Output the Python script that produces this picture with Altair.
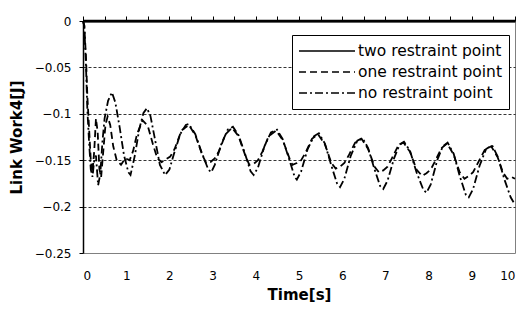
import altair as alt
import pandas as pd

series_names = ["two restraint point", "one restraint point", "no restraint point"]

t_two = [0.0, 10.0]
v_two = [0.0, 0.0]

t_one = [0.0, 0.03, 0.07, 0.1, 0.14, 0.18, 0.22, 0.26, 0.3, 0.34, 0.38, 0.42, 0.47, 0.52, 0.57,
         0.63, 0.7, 0.78, 0.88, 0.98, 1.08, 1.16, 1.25, 1.38, 1.5, 1.62, 1.72, 1.82, 1.92, 2.02,
         2.12, 2.28, 2.45, 2.6, 2.75, 2.85, 2.95, 3.05, 3.15, 3.3, 3.45, 3.6, 3.75, 3.85, 3.95,
         4.05, 4.15, 4.3, 4.47, 4.62, 4.78, 4.85, 4.95, 5.05, 5.15, 5.3, 5.44, 5.6, 5.75, 5.85,
         5.95, 6.05, 6.15, 6.3, 6.45, 6.6, 6.75, 6.85, 6.95, 7.05, 7.15, 7.3, 7.42, 7.57, 7.72,
         7.85, 7.95, 8.05, 8.15, 8.3, 8.43, 8.58, 8.72, 8.83, 8.93, 9.03, 9.13, 9.3, 9.45, 9.6,
         9.72, 9.82, 9.92, 10.0]
v_one = [0.0, -0.005, -0.04, -0.08, -0.115, -0.15, -0.163, -0.14, -0.105, -0.12, -0.16, -0.168,
         -0.14, -0.112, -0.103, -0.112, -0.135, -0.15, -0.155, -0.148, -0.15, -0.14, -0.122,
         -0.107, -0.113, -0.133, -0.148, -0.152, -0.149, -0.146, -0.138, -0.118, -0.112, -0.123,
         -0.143, -0.153, -0.152, -0.148, -0.14, -0.122, -0.115, -0.124, -0.144, -0.155, -0.154,
         -0.15, -0.141, -0.124, -0.118, -0.128, -0.148, -0.155, -0.153, -0.15, -0.142, -0.127,
         -0.122, -0.133, -0.153, -0.159, -0.157, -0.153, -0.145, -0.131, -0.127, -0.138, -0.157,
         -0.163, -0.161, -0.157, -0.148, -0.134, -0.131, -0.141, -0.16, -0.167, -0.164, -0.16,
         -0.151, -0.137, -0.132, -0.144, -0.163, -0.17, -0.167, -0.163, -0.154, -0.139, -0.135,
         -0.147, -0.163, -0.17, -0.168, -0.17]

t_no = [0.0, 0.03, 0.07, 0.1, 0.14, 0.18, 0.22, 0.26, 0.3, 0.35, 0.4, 0.45, 0.5, 0.58, 0.67,
        0.75, 0.85, 0.95, 1.05, 1.1, 1.2, 1.3, 1.4, 1.48, 1.56, 1.66, 1.78, 1.9, 2.0, 2.1, 2.25,
        2.38, 2.45, 2.6, 2.75, 2.9, 2.97, 3.05, 3.2, 3.35, 3.47, 3.6, 3.75, 3.88, 3.95, 4.05,
        4.2, 4.35, 4.49, 4.62, 4.78, 4.9, 4.95, 5.05, 5.2, 5.35, 5.46, 5.6, 5.75, 5.88, 5.95,
        6.05, 6.2, 6.35, 6.47, 6.6, 6.75, 6.88, 6.95, 7.05, 7.2, 7.33, 7.43, 7.57, 7.72, 7.88,
        7.95, 8.05, 8.2, 8.33, 8.44, 8.58, 8.72, 8.86, 8.93, 9.03, 9.18, 9.33, 9.47, 9.6, 9.75,
        9.9, 10.0]
v_no = [0.0, -0.005, -0.05, -0.095, -0.13, -0.16, -0.168, -0.15, -0.145, -0.177, -0.165, -0.13,
        -0.105, -0.086, -0.077, -0.088, -0.115, -0.145, -0.163, -0.166, -0.145, -0.117, -0.099,
        -0.094, -0.102, -0.126, -0.155, -0.166, -0.16, -0.144, -0.122, -0.112, -0.111, -0.122,
        -0.142, -0.16, -0.163, -0.155, -0.133, -0.117, -0.114, -0.123, -0.143, -0.162, -0.166,
        -0.158, -0.135, -0.12, -0.117, -0.127, -0.15, -0.168, -0.171, -0.162, -0.138, -0.124,
        -0.121, -0.132, -0.156, -0.175, -0.179, -0.17, -0.145, -0.129, -0.126, -0.137, -0.16,
        -0.178, -0.181, -0.172, -0.148, -0.133, -0.13, -0.14, -0.163, -0.182, -0.185, -0.176,
        -0.15, -0.135, -0.131, -0.143, -0.167, -0.187, -0.19, -0.181, -0.156, -0.138, -0.134,
        -0.146, -0.17, -0.19, -0.198]

x_labels = [0, 1, 2, 3, 4, 5, 6, 7, 8, 9, 10]
x_top_ticks = [0, 0.5, 1, 1.5, 2, 2.5, 3, 3.5, 4, 4.5, 5, 5.5, 6, 6.5, 7, 7.5, 8, 8.5, 9, 9.5, 10]
y_ticks = [0, -0.05, -0.1, -0.15, -0.2, -0.25]

rows = []
for name, ts, vs in [(series_names[0], t_two, v_two),
                     (series_names[1], t_one, v_one),
                     (series_names[2], t_no, v_no)]:
    for t, v in zip(ts, vs):
        rows.append({"series": name, "t": t, "v": v})
df = pd.DataFrame(rows)

FONT = "DejaVu Sans"

y_axis = alt.Axis(
    values=y_ticks, title="Link Work4[J]",
    labelExpr="replace(format(datum.value, '.2~f'), '-', '\u2212')",
    labelFont=FONT, labelFontSize=12, labelColor="black", labelPadding=8,
    tickColor="black", tickSize=4, domainColor="black", domainWidth=1.5,
    grid=True, gridColor="black", gridDash=[3, 2], gridWidth=0.8,
    gridOpacity={"condition": {"test": "datum.value < -0.01 && datum.value > -0.24", "value": 1}, "value": 0},
    titleFont=FONT, titleFontSize=15, titleFontWeight="bold", titleColor="black", titlePadding=10,
)

x_bottom = alt.Axis(
    values=x_labels, orient="bottom", ticks=False, domain=False, grid=False,
    labelFont=FONT, labelFontSize=12, labelColor="black", labelPadding=17,
    title="Time[s]", titleFont=FONT, titleFontSize=15, titleFontWeight="bold",
    titleColor="black", titlePadding=6,
)

x_top = alt.Axis(
    values=x_top_ticks, orient="top", labels=False, ticks=True, tickSize=5,
    tickColor="black", domainColor="black", domainWidth=2, grid=False, title=None,
)

xscale = alt.Scale(domain=[0, 10], nice=False, zero=False)
yscale = alt.Scale(domain=[-0.25, 0], nice=False, zero=False)

lines = alt.Chart(df).mark_line(color="black", strokeWidth=1.8).encode(
    x=alt.X("t:Q", scale=xscale, axis=x_bottom),
    y=alt.Y("v:Q", scale=yscale, axis=y_axis),
    strokeDash=alt.StrokeDash(
        "series:N",
        scale=alt.Scale(domain=series_names, range=[[1, 0], [7, 4], [8, 3, 2, 3]]),
        legend=alt.Legend(
            title=None, orient="none", legendX=209, legendY=14, direction="vertical",
            symbolType="stroke", symbolSize=3136, symbolStrokeWidth=1.6,
            symbolStrokeColor="black", clipHeight=20, rowPadding=1,
            labelFont=FONT, labelFontSize=15.5, labelColor="black", labelOffset=2,
            padding=6, strokeColor="black", fillColor="white", cornerRadius=0,
        ),
    ),
    order="t:Q",
)

top_line = alt.Chart(df).transform_filter(
    alt.datum.series == series_names[0]
).mark_line(color="black", strokeWidth=2.5).encode(
    x=alt.X("t:Q", scale=xscale, axis=x_top),
    y=alt.Y("v:Q", scale=yscale, axis=y_axis),
)

chart = alt.layer(lines, top_line).resolve_axis(x="independent").properties(
    width=432, height=232,
    background="white",
    autosize=alt.AutoSizeParams(type="none"),
    padding={"left": 75, "top": 13, "right": 2, "bottom": 52},
).configure_view(stroke="#808080", strokeWidth=1)

chart.save("out.html", embed_options={"renderer": "svg", "actions": False})
